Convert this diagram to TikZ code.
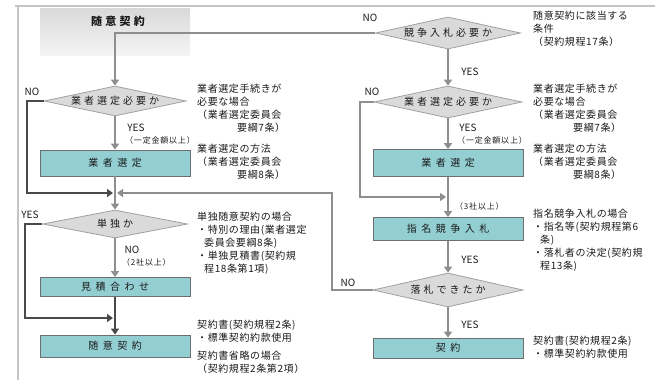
\documentclass[tikz,border=0pt]{standalone}
\usepackage{fontspec}
\newfontfamily\jp[LetterSpace=6]{Noto Sans CJK JP}
\newfontfamily\jpbox[LetterSpace=45]{Noto Sans CJK JP}
\newfontfamily\jpdia[LetterSpace=30]{Noto Sans CJK JP}
\newfontfamily\jpsm[LetterSpace=10]{Noto Sans CJK JP}
\newfontfamily\jplat{Noto Sans CJK JP}
\usetikzlibrary{shapes.geometric,arrows.meta}
\definecolor{boxfill}{HTML}{93CFD2}
\definecolor{boxline}{HTML}{6E6E6E}
\definecolor{diafill}{HTML}{DADADA}
\definecolor{dialine}{HTML}{A0A0A0}
\definecolor{linec}{HTML}{8E8E8E}
\definecolor{darkline}{HTML}{4A4A4A}
\definecolor{framec}{HTML}{C4C4C4}
\definecolor{txt}{HTML}{1A1A1A}
\begin{document}
\begin{tikzpicture}[x=1pt,y=-1pt,
  stepbox/.style={draw=boxline,line width=0.8pt,fill=boxfill,rectangle,inner sep=0pt,
    minimum width=150pt,font=\jpbox\fontsize{10}{12}\selectfont,text=txt},
  decision/.style={draw=dialine,line width=0.8pt,fill=diafill,diamond,aspect=4.5,inner sep=0pt,
    font=\jpdia\fontsize{10}{12}\selectfont,text=txt},
  note/.style={anchor=north west,align=left,inner sep=0pt,font=\jp\fontsize{10}{13}\selectfont,text=txt},
  yn/.style={inner sep=0pt,font=\jplat\fontsize{10}{12}\selectfont,text=txt},
  small/.style={inner sep=0pt,anchor=west,font=\jpsm\fontsize{8}{10}\selectfont,text=txt},
  conn/.style={draw=linec,line width=2.6pt},
  dconn/.style={draw=darkline,line width=2.6pt},
  arr/.style={-{Triangle[width=8pt,length=6pt]}}
]
\useasboundingbox (0,0) rectangle (655,384);
% frame
\draw[framec,line width=1.2pt] (15,6) -- (655,6);
\draw[framec,line width=1.2pt] (18,6) -- (18,380);
% header
\shade[top color=gray!30,bottom color=gray!8] (40,8) rectangle (190,55);
\node[inner sep=0pt,font=\jpdia\bfseries\fontsize{11}{13}\selectfont,text=txt] (hdr) at (118,21) {随意契約};

% left column
\node[decision,minimum width=142pt,minimum height=30pt] (dL1) at (115,101) {業者選定必要か};
\node[stepbox,minimum height=26pt] (bL1) at (115,163) {業者選定};
\node[decision,minimum width=145pt,minimum height=28pt] (dL2) at (115,224) {単独か};
\node[stepbox,minimum height=19pt] (bL2) at (115,287) {見積合わせ};
\node[stepbox,minimum height=22pt] (bL3) at (115,346) {随意契約};

% right column
\node[decision,minimum width=145pt,minimum height=32pt] (dR0) at (448,33) {競争入札必要か};
\node[decision,minimum width=148pt,minimum height=32pt] (dR1) at (448,102) {業者選定必要か};
\node[stepbox,minimum height=27pt] (bR1) at (448,163) {業者選定};
\node[stepbox,minimum height=23pt] (bR2) at (448,229) {指名競争入札};
\node[decision,minimum width=150pt,minimum height=34pt] (dR2) at (448,290) {落札できたか};
\node[stepbox,minimum height=20pt] (bR3) at (448,348) {契約};

% junction coordinates
\coordinate (j0) at (115,33);
\coordinate (nl1) at (27,193);
\coordinate (jLl) at (113,193);
\coordinate (cR) at (332,193);
\coordinate (jLr) at (117,193);
\coordinate (nl2) at (25,318);
\coordinate (jL2) at (113,318);
\coordinate (nr1) at (360,197);
\coordinate (jR) at (446,197);

% connectors
\draw[conn,arr] (dR0.west) -- (j0) -- (dL1.north);
\draw[conn,arr] (dL1.south) -- (bL1.north);
\draw[dconn,arr] (dL1.west) -| (nl1) -- (jLl);
\draw[conn,arr] (bL1.south) -- (dL2.north);
\draw[conn,arr] (dR2.west) -| (cR) -- (jLr);
\draw[conn,arr] (dL2.south) -- (bL2.north);
\draw[dconn,arr] (dL2.west) -| (nl2) -- (jL2);
\draw[dconn,arr] (bL2.south) -- (bL3.north);
\draw[conn,arr] (dR0.south) -- (dR1.north);
\draw[conn,arr] (dR1.south) -- (bR1.north);
\draw[conn,arr] (dR1.west) -| (nr1) -- (jR);
\draw[conn,arr] (bR1.south) -- (bR2.north);
\draw[conn,arr] (bR2.south) -- (dR2.north);
\draw[conn,arr] (dR2.south) -- (bR3.north);

% yes/no labels
\node[yn] (noR0) at (370,18) {NO};
\node[yn] (yesR0) at (470,72) {YES};
\node[yn] (noL1) at (32,92) {NO};
\node[yn] (yesL1) at (136,128) {YES};
\node[small] (amtL) at (125,140) {（一定金額以上）};
\node[yn] (noR1) at (372,92) {NO};
\node[yn] (yesR1) at (468,128) {YES};
\node[small] (amtR) at (457,140) {（一定金額以上）};
\node[yn] (yesL2) at (30,215) {YES};
\node[yn] (noL2) at (132,250) {NO};
\node[small] (twoL) at (122,262) {（2社以上）};
\node[small] (threeR) at (455,206) {（3社以上）};
\node[yn] (yesR2) at (470,260) {YES};
\node[yn] (noR2) at (348,283) {NO};
\node[yn] (yesR3) at (470,325) {YES};

% notes left
\node[note] (nL1) at (197,84) {業者選定手続きが\\必要な場合\\（業者選定委員会\\\hspace*{40pt}要綱7条）};
\node[note] (nL2) at (197,144) {業者選定の方法\\（業者選定委員会\\\hspace*{40pt}要綱8条）};
\node[note] (nL3) at (197,212) {単独随意契約の場合\\・特別の理由(業者選定\\\hspace*{7pt}委員会要綱8条)\\・単独見積書(契約規\\\hspace*{7pt}程18条第1項)};
\node[note] (nL4) at (197,320) {契約書(契約規程2条)\\・標準契約約款使用};
\node[note] (nL5) at (197,351) {契約書省略の場合\\（契約規程2条第2項）};
% notes right
\node[note] (nR0) at (533,11) {随意契約に該当する\\条件\\（契約規程17条）};
\node[note] (nR1) at (533,84) {業者選定手続きが\\必要な場合\\（業者選定委員会\\\hspace*{40pt}要綱7条）};
\node[note] (nR2) at (533,144) {業者選定の方法\\（業者選定委員会\\\hspace*{40pt}要綱8条）};
\node[note] (nR3) at (533,209) {指名競争入札の場合\\・指名等(契約規程第6\\\hspace*{7pt}条)\\・落札者の決定(契約規\\\hspace*{7pt}程13条)};
\node[note] (nR4) at (533,336) {契約書(契約規程2条)\\・標準契約約款使用};
\end{tikzpicture}
\end{document}
